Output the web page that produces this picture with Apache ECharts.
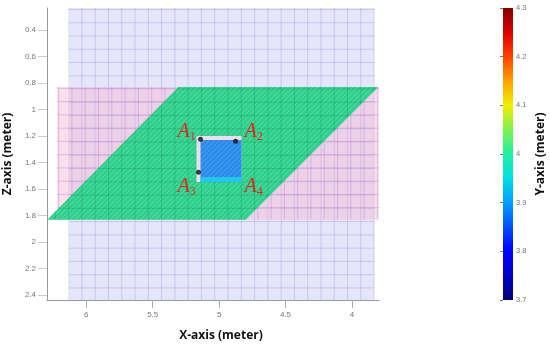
<!DOCTYPE html>
<html><head><meta charset="utf-8">
<script src="https://cdn.jsdelivr.net/npm/echarts@6/dist/echarts.min.js"></script>
<style>html,body{margin:0;padding:0;background:#fff}#c{width:550px;height:345px}</style>
</head><body><div id="c"></div>
<script>
// ---- data ----
const xTicks = [4, 4.5, 5, 5.5, 6];
const zTicks = [0.4, 0.6, 0.8, 1, 1.2, 1.4, 1.6, 1.8, 2, 2.2, 2.4];
const yTicks = [3.7, 3.8, 3.9, 4, 4.1, 4.2, 4.3];
// plane corners [x, z]
const backPlane  = [[6.133, 0.20], [3.83, 0.20], [3.83, 2.44], [6.133, 2.44]];
const midPlane   = [[6.22, 0.83], [3.79, 0.83], [3.79, 1.83], [6.22, 1.83]];
const greenPlane = [[5.306, 0.83], [3.80, 0.83], [4.80, 1.83], [6.294, 1.83]];
const squareRim  = [[5.17, 1.20], [4.831, 1.20], [4.831, 1.547], [5.17, 1.547]];
const squareFace = [[5.14, 1.23], [4.831, 1.23], [4.831, 1.547], [5.14, 1.547]];
const squareEdge = [[5.14, 1.509], [4.831, 1.509], [4.831, 1.547], [5.14, 1.547]];
const cornerPts  = [[5.14, 1.223], [4.876, 1.238], [5.155, 1.472]];
const labelSubs  = ['1', '2', '3', '4'];
const labelPos   = [[5.245, 1.17], [4.74, 1.17], [5.245, 1.585], [4.74, 1.585]];
const jetColors  = ['#00007a','#0000c8','#0000ff','#0050ff','#00a0ff','#00e0e0','#20f0a0','#80f050','#f0f000','#ffa000','#ff4000','#e00000','#800000'];

// ---- helpers ----
function hatch(base, line) {
  const c = document.createElement('canvas'); c.width = c.height = 5;
  const g = c.getContext('2d');
  g.fillStyle = base; g.fillRect(0, 0, 5, 5);
  g.strokeStyle = line; g.lineWidth = 1; g.beginPath();
  g.moveTo(-1, 6); g.lineTo(6, -1); g.moveTo(-1, 1); g.lineTo(1, -1); g.moveTo(4, 6); g.lineTo(6, 4);
  g.stroke();
  return { type: 'pattern', image: c, repeat: 'repeat' };
}
function meshLines(api, corners, mesh) {
  const xs = corners.map(c => c[0]), zs = corners.map(c => c[1]);
  const x0 = Math.min(...xs), x1 = Math.max(...xs), z0 = Math.min(...zs), z1 = Math.max(...zs);
  const out = [];
  for (let k = Math.ceil((x0 - mesh.x) / mesh.step); mesh.x + k * mesh.step <= x1; k++) {
    const v = mesh.x + k * mesh.step;
    const a = api.coord([v, z0]), b = api.coord([v, z1]);
    out.push({ type: 'line', shape: { x1: a[0], y1: a[1], x2: b[0], y2: b[1] }, style: { stroke: mesh.color, lineWidth: 1 } });
  }
  for (let k = Math.ceil((z0 - mesh.z) / mesh.step); mesh.z + k * mesh.step <= z1; k++) {
    const v = mesh.z + k * mesh.step;
    const a = api.coord([x0, v]), b = api.coord([x1, v]);
    out.push({ type: 'line', shape: { x1: a[0], y1: a[1], x2: b[0], y2: b[1] }, style: { stroke: mesh.color, lineWidth: 1 } });
  }
  return out;
}
function planeSeries(corners, fill, meshes) {
  return {
    type: 'custom', coordinateSystem: 'cartesian2d', xAxisIndex: 0, yAxisIndex: 0, clip: true, silent: true,
    data: [corners[0]],
    renderItem: (params, api) => {
      const pts = corners.map(c => api.coord(c));
      const children = [{ type: 'polygon', shape: { points: pts }, style: { fill } }];
      (meshes || []).forEach(m => {
        children.push({ type: 'group', clipPath: { type: 'polygon', shape: { points: pts } }, children: meshLines(api, corners, m) });
      });
      return { type: 'group', children };
    }
  };
}

const backMesh  = { x: 6.133, z: 0.245, step: 0.1, color: 'rgba(120,110,200,0.26)' };
const midMesh   = { x: 6.108, z: 0.84, step: 0.1, color: 'rgba(150,90,200,0.28)' };
const greenMesh = { x: 6.133, z: 0.245, step: 0.1, color: 'rgba(0,100,70,0.2)' };

const chart = echarts.init(document.getElementById('c'), null, { renderer: 'canvas' });
const tickLabel = { color: '#777', fontSize: 8, fontFamily: 'Liberation Sans' };
const titleStyle = { color: '#111', fontSize: 12, fontWeight: 'bold', fontFamily: 'Open Sans' };

chart.setOption({
  animation: false,
  backgroundColor: '#fff',
  grid: [
    { left: 47, top: 8, width: 332, height: 292, containLabel: false, outerBoundsMode: 'none' },
    { left: 503, top: 8, width: 10, height: 292, containLabel: false, outerBoundsMode: 'none' }
  ],
  xAxis: [
    { gridIndex: 0, type: 'value', inverse: true, min: 3.796, max: 6.296,
      name: 'X-axis (meter)', nameLocation: 'middle', nameGap: 30, nameTextStyle: Object.assign({ padding: [0, 0, 0, 16] }, titleStyle),
      axisLine: { show: true, lineStyle: { color: '#999' } },
      axisTick: { show: true, length: 8, lineStyle: { color: '#aaa' }, customValues: xTicks },
      axisLabel: Object.assign({ margin: 11, customValues: xTicks }, tickLabel),
      splitLine: { show: false } },
    { gridIndex: 1, type: 'value', min: 0, max: 1, show: false }
  ],
  yAxis: [
    { gridIndex: 0, type: 'value', inverse: true, min: 0.234, max: 2.436,
      name: 'Z-axis (meter)', nameLocation: 'middle', nameGap: 31, nameRotate: 90, nameTextStyle: titleStyle,
      axisLine: { show: true, lineStyle: { color: '#999' } },
      axisTick: { show: true, length: 9, lineStyle: { color: '#ccc' }, customValues: zTicks },
      axisLabel: Object.assign({ margin: 11, customValues: zTicks }, tickLabel),
      splitLine: { show: false } },
    { gridIndex: 1, type: 'value', position: 'right', min: 3.7, max: 4.3,
      name: 'Y-axis (meter)', nameLocation: 'middle', nameGap: 22, nameRotate: 90, nameTextStyle: titleStyle,
      axisLine: { show: false },
      axisTick: { show: true, inside: true, length: 3, lineStyle: { color: '#777' }, customValues: yTicks },
      axisLabel: Object.assign({ margin: 3, customValues: yTicks }, tickLabel, { fontSize: 7.5 }),
      splitLine: { show: false } }
  ],
  series: [
    planeSeries(backPlane, '#e6e6fb', [backMesh]),
    planeSeries(midPlane, 'rgba(245,178,208,0.4)', [midMesh]),
    planeSeries(greenPlane, hatch('#2fd08c', '#55dea6'), [greenMesh]),
    planeSeries(squareRim, '#f2dcf0'),
    planeSeries(squareFace, hatch('#2a8ce8', '#4aa2f0')),
    planeSeries(squareEdge, '#22c6f0'),
    { type: 'scatter', xAxisIndex: 0, yAxisIndex: 0, data: cornerPts, symbolSize: 5, itemStyle: { color: '#111' }, silent: true },
    { type: 'custom', coordinateSystem: 'cartesian2d', xAxisIndex: 0, yAxisIndex: 0, silent: true, clip: false,
      data: labelPos,
      renderItem: (params, api) => {
        const p = api.coord([api.value(0), api.value(1)]);
        return { type: 'text', x: p[0], y: p[1], style: {
          text: '{a|A}{s|' + labelSubs[params.dataIndex] + '}', align: 'center', verticalAlign: 'middle',
          rich: {
            a: { fontSize: 20, fontStyle: 'italic', fontFamily: 'Liberation Serif', fill: '#e8201c', color: '#e8201c', lineHeight: 22, verticalAlign: 'middle' },
            s: { fontSize: 12, fontFamily: 'Liberation Serif', fill: '#e8201c', color: '#e8201c', lineHeight: 22, verticalAlign: 'bottom', padding: [7, 0, 0, 0] }
          } } };
      } },
    { type: 'custom', coordinateSystem: 'cartesian2d', xAxisIndex: 1, yAxisIndex: 1, silent: true,
      data: [[0, 3.7]],
      renderItem: (params, api) => {
        const a = api.coord([0, 4.3]), b = api.coord([1, 3.7]);
        const stops = jetColors.map((c, i) => ({ offset: 1 - i / (jetColors.length - 1), color: c }));
        return { type: 'rect', shape: { x: a[0], y: a[1], width: b[0] - a[0], height: b[1] - a[1] },
          style: { fill: new echarts.graphic.LinearGradient(0, 0, 0, 1, stops) } };
      } }
  ]
});
</script></body></html>
